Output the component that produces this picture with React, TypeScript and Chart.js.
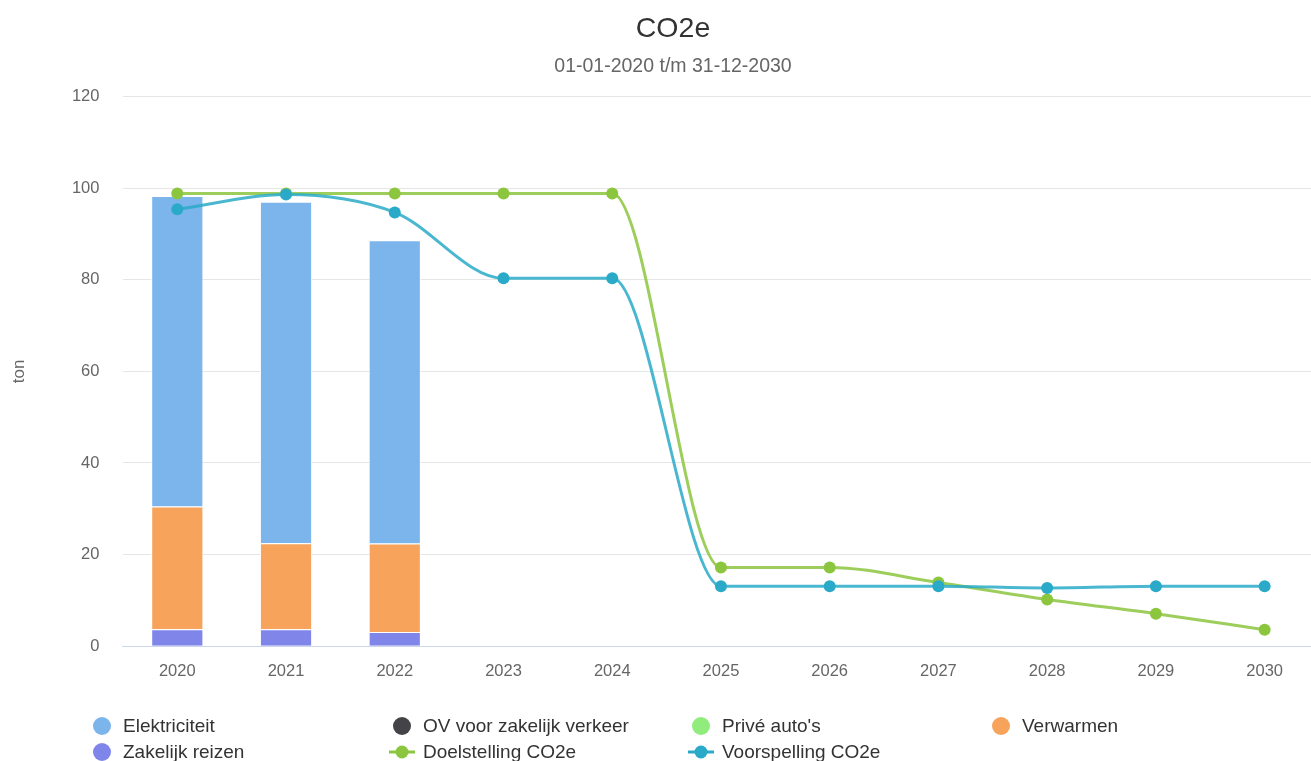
import React, { useEffect, useRef } from "react";
import { Chart, registerables } from "chart.js";

Chart.register(...registerables);

const years = ["2020", "2021", "2022", "2023", "2024", "2025", "2026", "2027", "2028", "2029", "2030"];

const elektriciteit = [67.8, 74.5, 66.2, null, null, null, null, null, null, null, null];
const ovZakelijk = [null, null, null, null, null, null, null, null, null, null, null];
const priveAutos = [null, null, null, null, null, null, null, null, null, null, null];
const verwarmen = [26.8, 18.8, 19.3, null, null, null, null, null, null, null, null];
const zakelijkReizen = [3.7, 3.7, 3.1, null, null, null, null, null, null, null, null];
const doelstelling = [98.8, 98.8, 98.8, 98.8, 98.8, 17.2, 17.2, 13.9, 10.2, 7.1, 3.6];
const voorspelling = [95.4, 98.6, 94.7, 80.3, 80.3, 13.1, 13.1, 13.1, 12.7, 13.1, 13.1];

const yTicks = [0, 20, 40, 60, 80, 100, 120];

const TITLE = "CO2e";
const SUBTITLE = "01-01-2020 t/m 31-12-2030";

const FONT = "'Liberation Sans', Arial, Helvetica, sans-serif";

const C_ELEK = "#7cb5ec";
const C_OV = "#434348";
const C_PRIVE = "#90ed7d";
const C_VERW = "#f7a35c";
const C_ZAK = "#8085e9";
const C_DOEL = "#8cc63f";
const C_VOOR = "#2aaac8";

// legend layout: [label, color, kind]
const legendItems: [string, string, string][] = [
  ["Elektriciteit", C_ELEK, "circle"],
  ["OV voor zakelijk verkeer", C_OV, "circle"],
  ["Privé auto's", C_PRIVE, "circle"],
  ["Verwarmen", C_VERW, "circle"],
  ["Zakelijk reizen", C_ZAK, "circle"],
  ["Doelstelling CO2e", C_DOEL, "line"],
  ["Voorspelling CO2e", C_VOOR, "line"],
];
const legendCols = [123, 423, 722, 1022];
const legendRows = [726, 752];

const headerPlugin = {
  id: "headerAndLegend",
  afterDraw(chart: any) {
    const ctx = chart.ctx as CanvasRenderingContext2D;
    ctx.save();
    // title + subtitle
    ctx.textAlign = "center";
    ctx.textBaseline = "middle";
    ctx.fillStyle = "#333333";
    ctx.font = `28.5px ${FONT}`;
    ctx.fillText(TITLE, 673, 29.5);
    ctx.fillStyle = "#666666";
    ctx.font = `19.5px ${FONT}`;
    ctx.fillText(SUBTITLE, 673, 67);

    // legend
    ctx.font = `19px ${FONT}`;
    ctx.textAlign = "left";
    legendItems.forEach(([label, color, kind], i) => {
      const x = legendCols[i % 4];
      const y = legendRows[Math.floor(i / 4)];
      const sx = x - 21;
      if (kind === "circle") {
        ctx.fillStyle = color;
        ctx.beginPath();
        ctx.arc(sx, y, 9, 0, Math.PI * 2);
        ctx.fill();
      } else {
        ctx.strokeStyle = color;
        ctx.lineWidth = 3;
        ctx.beginPath();
        ctx.moveTo(sx - 13, y);
        ctx.lineTo(sx + 13, y);
        ctx.stroke();
        ctx.fillStyle = color;
        ctx.beginPath();
        ctx.arc(sx, y, 6.5, 0, Math.PI * 2);
        ctx.fill();
      }
      ctx.fillStyle = "#333333";
      ctx.fillText(label, x, y + 1);
    });
    ctx.restore();
  },
};

export default function App() {
  const ref = useRef<HTMLCanvasElement | null>(null);

  useEffect(() => {
    if (!ref.current) return;
    Chart.defaults.font.family = FONT;
    const barCommon = {
      type: "bar" as const,
      borderColor: "#ffffff",
      borderWidth: 1,
      barPercentage: 0.48,
      categoryPercentage: 1,
      stack: "bars",
      order: 2,
    };
    const lineCommon = {
      type: "line" as const,
      borderWidth: 3,
      pointRadius: 6,
      pointHoverRadius: 6,
      pointBorderWidth: 0,
      cubicInterpolationMode: "monotone" as const,
      fill: false,
      order: 0,
    };
    const chart = new Chart(ref.current, {
      type: "bar",
      data: {
        labels: years,
        datasets: [
          { ...barCommon, label: "Zakelijk reizen", data: zakelijkReizen, backgroundColor: C_ZAK },
          { ...barCommon, label: "Verwarmen", data: verwarmen, backgroundColor: C_VERW },
          { ...barCommon, label: "Privé auto's", data: priveAutos, backgroundColor: C_PRIVE },
          { ...barCommon, label: "OV voor zakelijk verkeer", data: ovZakelijk, backgroundColor: C_OV },
          { ...barCommon, label: "Elektriciteit", data: elektriciteit, backgroundColor: C_ELEK },
          {
            ...lineCommon,
            label: "Doelstelling CO2e",
            data: doelstelling,
            borderColor: "rgba(140,198,63,0.85)",
            backgroundColor: C_DOEL,
            pointBackgroundColor: C_DOEL,
            stack: "doel",
            order: 1,
          },
          {
            ...lineCommon,
            label: "Voorspelling CO2e",
            data: voorspelling,
            borderColor: "rgba(42,170,200,0.85)",
            backgroundColor: C_VOOR,
            pointBackgroundColor: C_VOOR,
            stack: "voor",
            order: 0,
          },
        ] as any,
      },
      options: {
        animation: false,
        responsive: true,
        maintainAspectRatio: false,
        devicePixelRatio: 1,
        layout: { padding: { left: 5, right: 0, top: 96.5, bottom: 65 } },
        plugins: {
          legend: { display: false },
          tooltip: { enabled: false },
          title: { display: false },
          subtitle: { display: false },
        },
        scales: {
          x: {
            stacked: true,
            offset: true,
            grid: { display: false, drawTicks: false },
            border: { display: true, color: "#ccd6eb", width: 1 },
            ticks: { color: "#666666", font: { size: 16.5 }, padding: 15, maxRotation: 0 },
          },
          y: {
            stacked: true,
            min: 0,
            max: 120,
            afterBuildTicks: (scale: any) => {
              scale.ticks = yTicks.map((v) => ({ value: v }));
            },
            grid: { color: "#e6e6e6", drawTicks: false },
            border: { display: false },
            ticks: { color: "#666666", font: { size: 16.5 }, padding: 23.5 },
            title: {
              display: true,
              text: "ton",
              color: "#666666",
              font: { size: 17 },
              padding: { top: 4, bottom: 19 },
            },
          },
        },
      },
      plugins: [headerPlugin],
    });
    return () => chart.destroy();
  }, []);

  return (
    <div style={{ position: "fixed", left: 0, top: 0, width: 1311, height: 761, overflow: "hidden", background: "#fff" }}>
      <div style={{ position: "relative", width: 1325, height: 761 }}>
        <canvas ref={ref} />
      </div>
    </div>
  );
}
